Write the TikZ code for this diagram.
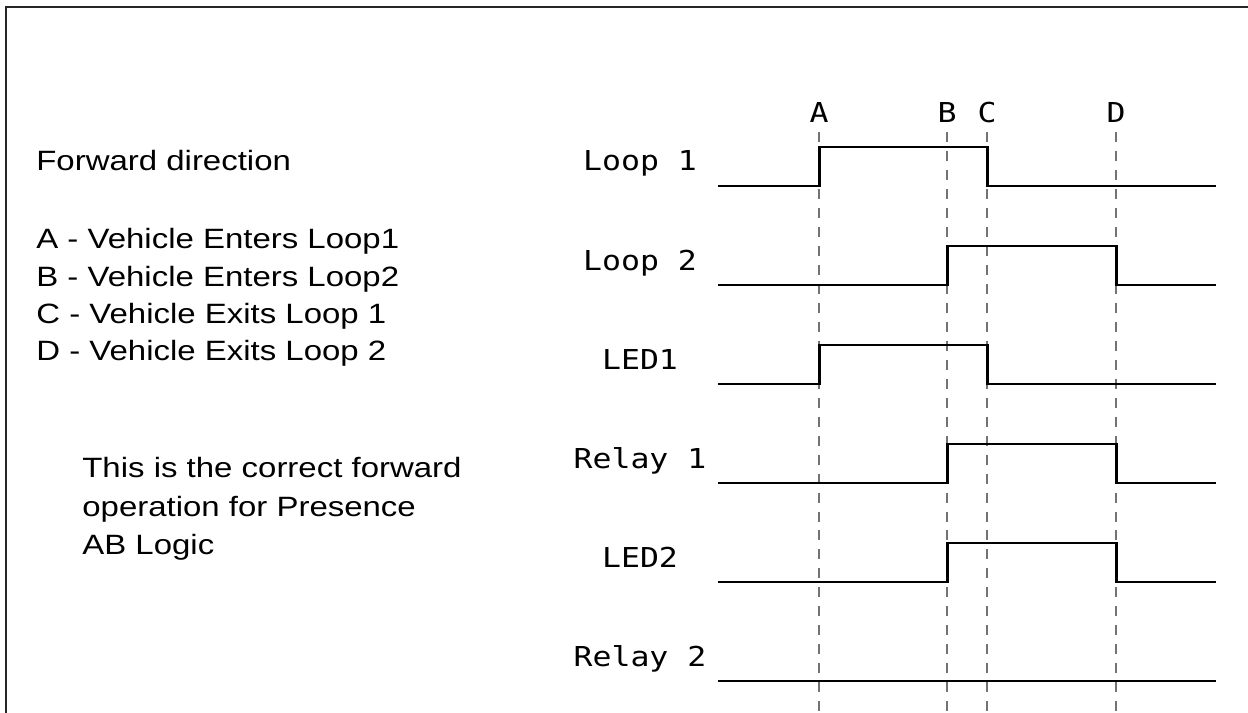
\documentclass[tikz,border=0pt]{standalone}
\usepackage{fontspec}
\setmainfont{Liberation Sans}
\newfontfamily\notefont[FakeStretch=1.18]{Liberation Sans}
\newfontfamily\sigfont[FakeStretch=1.15]{DejaVu Sans Mono}

\begin{document}
\begin{tikzpicture}[
    x=0.02cm, y=-0.02cm,
    note/.style={anchor=base west, inner sep=0pt, font=\notefont\fontsize{15.9}{19}\selectfont},
    siglabel/.style={anchor=base, inner sep=0pt, font=\sigfont\fontsize{15.6}{18}\selectfont},
    wave/.style={line width=1.7pt, line join=miter},
    marker/.style={draw=black!55, line width=0.6pt, dash pattern=on 5.7pt off 5.1pt}
]
    \useasboundingbox (0,0) rectangle (1248,713);

    % Frame
    \draw[line width=1.2pt, black!85] (6,713) -- (6,7) -- (1248,7);

    % Event markers
    \foreach \ev/\xx in {A/819, B/947, C/987, D/1116} {
        \coordinate (\ev top) at (\xx,132);
        \coordinate (\ev bot) at (\xx,713);
        \node[siglabel] (lbl\ev) at (\xx,123) {\ev};
        \draw[marker] (\ev top) -- (\ev bot);
    }

    % Signals
    \foreach \name/\yy/\up/\dn [count=\i] in {Loop 1/186/819/987, Loop 2/285/947/1116, LED1/384/819/987, Relay 1/483/947/1116, LED2/582/947/1116} {
        \node[siglabel] (sig\i) at (640,\yy-15) {\name};
        \draw[wave] (718,\yy) -- (\up,\yy) -- (\up,\yy-39) -- (\dn,\yy-39) -- (\dn,\yy) -- (1216,\yy);
    }
    \node[siglabel] (sig6) at (640,666) {Relay 2};
    \draw[wave] (718,681) -- (1216,681);

    % Notes
    \node[note] (title) at (36,171) {Forward direction};
    \foreach \txt/\yy [count=\i] in {A - Vehicle Enters Loop1/248, B - Vehicle Enters Loop2/286, C - Vehicle Exits Loop 1/323, D - Vehicle Exits Loop 2/360}
        \node[note] (key\i) at (36,\yy) {\txt};
    \foreach \txt/\yy [count=\i] in {This is the correct forward/477, operation for Presence/516, AB Logic/554}
        \node[note] (remark\i) at (82,\yy) {\txt};
\end{tikzpicture}
\end{document}
